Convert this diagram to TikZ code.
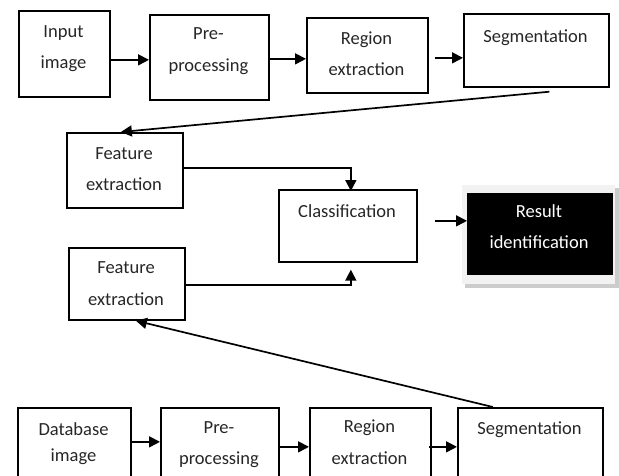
\documentclass[tikz,border=0pt]{standalone}
\usepackage{fontspec}
\setmainfont{Carlito}
\usetikzlibrary{arrows.meta}
\tikzset{
  box/.style={draw, line width=1.7pt, inner sep=0pt, anchor=north west},
  txt/.style={font=\fontsize{18.5}{22}\selectfont, inner sep=0pt, text height=12pt, text depth=4pt, text=black!85},
  arr/.style={line width=1.7pt, -{Triangle[length=11pt,width=11pt]}},
}
\begin{document}
\begin{tikzpicture}[x=1pt,y=-1pt]
\useasboundingbox (0,0) rectangle (619,475);
\clip (0,0) rectangle (619,475);
% top row
\node[box, minimum width=91pt, minimum height=86pt] (in) at (18,10) {};
\node[box, minimum width=119pt, minimum height=85pt] (pre) at (149,14) {};
\node[box, minimum width=121pt, minimum height=75pt] (reg) at (306,17) {};
\node[box, minimum width=145pt, minimum height=73pt] (seg) at (463,13) {};
\node[txt] (t1) at (63.5,33) {Input};
\node[txt] (t2) at (63.5,64) {image};
\node[txt] (t3) at (208.5,35) {Pre-};
\node[txt] (t4) at (208.5,67) {processing};
\node[txt] (t5) at (366.5,40) {Region};
\node[txt] (t6) at (366.5,71) {extraction};
\node[txt] (t7) at (535.5,38) {Segmentation};
% feature 1
\node[box, minimum width=116pt, minimum height=75pt] (fe1) at (66,132) {};
\node[txt] (t8) at (124,155) {Feature};
\node[txt] (t9) at (124,186) {extraction};
% classification
\node[box, minimum width=138pt, minimum height=72pt] (cls) at (278,189) {};
\node[txt] (t10) at (347,213) {Classification};
% result
\fill[gray!40] (465,188) rectangle (619,288);
\fill[gray!10] (462,185) rectangle (615,284);
\node[box, fill=black, minimum width=144pt, minimum height=80pt] (res) at (467,193) {};
\node[txt, text=white] (t11) at (539,213) {Result};
\node[txt, text=white] (t12) at (539,244) {identification};
% feature 2
\node[box, minimum width=116pt, minimum height=72pt] (fe2) at (68,247) {};
\node[txt] (t13) at (126,269) {Feature};
\node[txt] (t14) at (126,301) {extraction};
% bottom row
\node[box, minimum width=113pt, minimum height=80pt] (db) at (17,407) {};
\node[box, minimum width=118pt, minimum height=80pt] (pre2) at (160,407) {};
\node[box, minimum width=121pt, minimum height=80pt] (reg2) at (309,407) {};
\node[box, minimum width=145pt, minimum height=80pt] (seg2) at (457,407) {};
\node[txt] (t15) at (73.5,431) {Database};
\node[txt] (t16) at (73.5,457) {image};
\node[txt] (t17) at (219,429) {Pre-};
\node[txt] (t18) at (219,460) {processing};
\node[txt] (t19) at (369.5,428) {Region};
\node[txt] (t20) at (369.5,460) {extraction};
\node[txt] (t21) at (529.5,430) {Segmentation};
% connectors
\draw[arr] ([yshift=-6pt]in.east) -- ([yshift=-6pt]in.east -| pre.west);
\draw[arr] ([yshift=-1.5pt]pre.east) -- ([yshift=-1.5pt]pre.east -| reg.west);
\draw[arr] ([xshift=6pt,yshift=-2.5pt]reg.east) -- ([yshift=-2.5pt]reg.east -| seg.west);
\draw[arr] ([xshift=13pt,yshift=-4pt]seg.south) -- ([xshift=-4pt]fe1.north);
\draw[arr] ([yshift=2.5pt]fe1.east) -| ([xshift=3pt,yshift=-2pt]cls.north);
\draw[arr] ([yshift=-1pt]fe2.east) -| ([xshift=3pt,yshift=-7pt]cls.south);
\draw[arr] ([xshift=17pt,yshift=5pt]cls.east) -- ([yshift=5pt]cls.east -| res.west);
\draw[arr] ([xshift=-37.5pt]seg2.north) -- ([xshift=9pt]fe2.south);
\draw[arr] ([yshift=6pt]db.east) -- ([yshift=6pt]db.east -| pre2.west);
\draw[arr] ([yshift=1pt]pre2.east) -- ([yshift=1pt]pre2.east -| reg2.west);
\draw[arr] ([xshift=-3pt,yshift=1pt]reg2.east) -- ([yshift=1pt]reg2.east -| seg2.west);
\end{tikzpicture}
\end{document}
